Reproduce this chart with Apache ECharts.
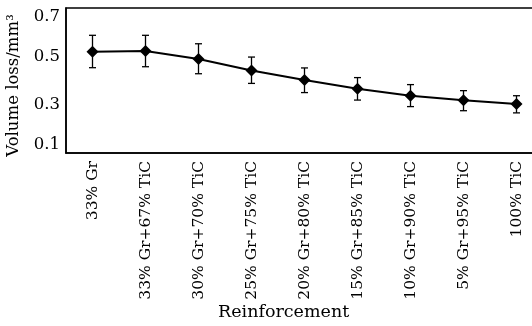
<!DOCTYPE html>
<html><head><meta charset="utf-8">
<script src="https://cdn.jsdelivr.net/npm/echarts@6/dist/echarts.min.js"></script>
<style>html,body{margin:0;padding:0;background:#fff}#c{width:532px;height:326px}</style>
</head><body><div id="c"></div>
<script>
const categories = ['33% Gr','33% Gr+67% TiC','30% Gr+70% TiC','25% Gr+75% TiC','20% Gr+80% TiC','15% Gr+85% TiC','10% Gr+90% TiC','5% Gr+95% TiC','100% TiC'];
const volumeLoss = [0.519, 0.522, 0.489, 0.441, 0.402, 0.366, 0.337, 0.318, 0.303];
const errLow = [0.453, 0.457, 0.428, 0.388, 0.350, 0.319, 0.292, 0.275, 0.266];
const errHigh = [0.587, 0.587, 0.552, 0.497, 0.452, 0.412, 0.383, 0.358, 0.337];
const yTicks = [0.1, 0.3, 0.5, 0.7];

const FONT = 'DejaVu Serif';
const chart = echarts.init(document.getElementById('c'));
chart.setOption({
  animation: false,
  grid: {left: 66, top: 8, width: 477, height: 145, outerBoundsMode: 'none', containLabel: false,
         show: true, borderColor: '#000', borderWidth: 1.5, backgroundColor: 'transparent'},
  xAxis: {
    type: 'category', data: categories, boundaryGap: true,
    axisLine: {lineStyle: {color: '#000', width: 1.5}},
    axisTick: {inside: true, alignWithLabel: true, length: 6, lineStyle: {color: '#000', width: 1.5}},
    axisLabel: {rotate: 90, interval: 0, margin: 8, color: '#000', fontFamily: FONT, fontSize: 15.5}
  },
  yAxis: {
    type: 'value', min: 0.1, max: 0.7, interval: 0.2,
    name: 'Volume loss/mm³', nameLocation: 'middle', nameGap: 44, nameRotate: 90,
    nameTextStyle: {color: '#000', fontFamily: FONT, fontSize: 16.5, padding: [0, 10, 0, 0]},
    axisLine: {show: true, lineStyle: {color: '#000', width: 1.5}},
    axisTick: {show: false},
    splitLine: {show: false},
    axisLabel: {color: '#000', fontFamily: FONT, fontSize: 16.5, margin: 6,
      verticalAlignMinLabel: 'bottom', verticalAlignMaxLabel: 'top',
      formatter: v => yTicks.includes(Math.round(v*10)/10) ? v.toFixed(1) : ''}
  },
  graphic: [{type: 'text', x: 218, y: 303, style: {text: 'Reinforcement', fill: '#000', font: '17.5px "DejaVu Serif"'}}],
  series: [
    {type: 'custom', data: categories.map((c, i) => [i, errLow[i], errHigh[i]]),
     renderItem: (params, api) => {
       const lo = api.coord([api.value(0), api.value(1)]);
       const hi = api.coord([api.value(0), api.value(2)]);
       const w = 3.5;
       const st = {stroke: '#000', lineWidth: 1.3};
       return {type: 'group', children: [
         {type: 'line', shape: {x1: lo[0], y1: lo[1], x2: hi[0], y2: hi[1]}, style: st},
         {type: 'line', shape: {x1: lo[0]-w, y1: lo[1], x2: lo[0]+w, y2: lo[1]}, style: st},
         {type: 'line', shape: {x1: hi[0]-w, y1: hi[1], x2: hi[0]+w, y2: hi[1]}, style: st}
       ]};
     }, z: 1},
    {type: 'line', data: volumeLoss, symbol: 'diamond', symbolSize: 12,
     lineStyle: {color: '#000', width: 2}, itemStyle: {color: '#000'}, z: 2}
  ]
});
</script></body></html>
